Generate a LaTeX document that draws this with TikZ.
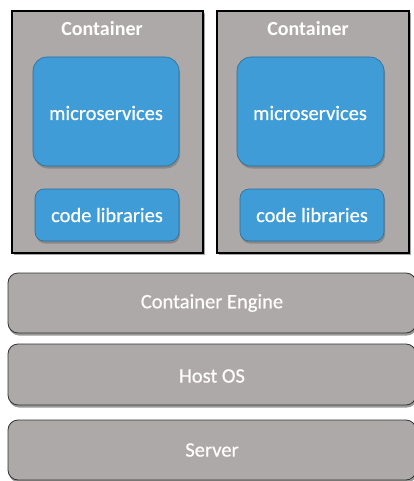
\documentclass[tikz,border=0pt]{standalone}
\usepackage{fontspec}
\setmainfont{Carlito}
\newfontfamily\lblfont[FakeBold=0.5]{Carlito}
\usetikzlibrary{shadows}
\definecolor{boxgray}{HTML}{ADA9A8}
\definecolor{boxblue}{HTML}{3F9CD6}
\tikzset{
  container/.style={draw=black, line width=2pt, fill=boxgray, drop shadow={shadow xshift=1.5pt, shadow yshift=-2pt, opacity=0.7}},
  bluebox/.style={draw=boxblue!70!black, line width=0.6pt, fill=boxblue, rounded corners=14pt, drop shadow={shadow xshift=1pt, shadow yshift=-2.5pt, opacity=0.8}},
  layer/.style={draw=black!80, line width=0.8pt, fill=boxgray, rounded corners=10pt, drop shadow={shadow xshift=1pt, shadow yshift=-2.5pt, opacity=0.8}},
  lbl/.style={text=white, font=\lblfont\fontsize{20.5}{24}\selectfont},
  ttl/.style={text=white, font=\bfseries\fontsize{20}{24}\selectfont},
}
\begin{document}
\begin{tikzpicture}[x=1pt,y=-1pt]
\useasboundingbox (0,0) rectangle (414,481);
\fill[white] (0,0) rectangle (414,481);
% containers
\draw[container] (12,11) rectangle (203,253);
\draw[container] (217,11) rectangle (409,253);
\node[ttl] (t1) at (102,29) {Container};
\node[ttl] (t2) at (308,29) {Container};
% microservices
\draw[bluebox] (33,57) rectangle (179,166);
\node[lbl] (m1) at (106,113) {microservices};
\draw[bluebox,rounded corners=9pt] (35,189) rectangle (179,241);
\node[lbl] (c1) at (107,215) {code libraries};
\draw[bluebox] (237,57) rectangle (384,166);
\node[lbl] (m2) at (310,113) {microservices};
\draw[bluebox,rounded corners=9pt] (240,189) rectangle (384,241);
\node[lbl] (c2) at (312,215) {code libraries};
% layers
\draw[layer] (8,273) rectangle (416,333);
\node[lbl] (ce) at (212,303) {Container Engine};
\draw[layer] (8,344) rectangle (416,405);
\node[lbl] (os) at (212,376) {Host OS};
\draw[layer] (8,420) rectangle (416,480);
\node[lbl] (sv) at (212,450) {Server};
\end{tikzpicture}
\end{document}
